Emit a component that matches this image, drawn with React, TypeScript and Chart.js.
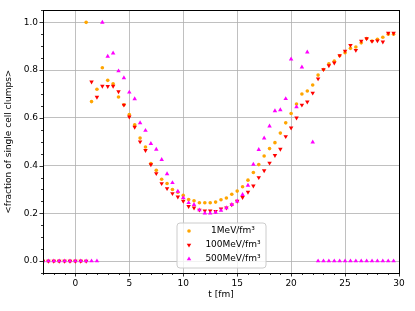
import React, { useEffect, useRef } from 'react';
import { Chart, registerables } from 'chart.js';

Chart.register(...registerables);

// time axis (t in fm)
const times = [
  -3, -2.5, -2, -1.5, -1, -0.5, 0, 0.5, 1, 1.5, 2, 2.5, 3, 3.5, 4, 4.5, 5, 5.5, 6, 6.5,
  7, 7.5, 8, 8.5, 9, 9.5, 10, 10.5, 11, 11.5, 12, 12.5, 13, 13.5, 14, 14.5, 15, 15.5, 16, 16.5,
  17, 17.5, 18, 18.5, 19, 19.5, 20, 20.5, 21, 21.5, 22, 22.5, 23, 23.5, 24, 24.5, 25, 25.5, 26, 26.5,
  27, 27.5, 28, 28.5, 29, 29.5,
];

const oneMeV = [
  0, 0, 0, 0, 0, 0, 0, 0, 1.0, 0.668, 0.72, 0.81, 0.757, 0.743, 0.687, 0.655, 0.614, 0.571, 0.515, 0.478,
  0.408, 0.38, 0.343, 0.325, 0.3, 0.288, 0.275, 0.258, 0.2525, 0.244, 0.244, 0.244, 0.247, 0.257, 0.264, 0.28, 0.293, 0.311, 0.339, 0.371,
  0.404, 0.44, 0.471, 0.496, 0.536, 0.579, 0.618, 0.658, 0.7, 0.7125, 0.7375, 0.779, 0.8025, 0.826, 0.8375, 0.86, 0.873, 0.891, 0.897, 0.914,
  0.932, 0.922, 0.929, 0.9375, 0.95, 0.95,
];

const hundredMeV = [
  0, 0, 0, 0, 0, 0, 0, 0, 0, 0.751, 0.687, 0.733, 0.732, 0.733, 0.71, 0.654, 0.604, 0.561, 0.5, 0.464,
  0.404, 0.367, 0.325, 0.304, 0.283, 0.269, 0.251, 0.229, 0.223, 0.214, 0.211, 0.211, 0.208, 0.219, 0.223, 0.236, 0.251, 0.267, 0.289, 0.315,
  0.35, 0.379, 0.411, 0.443, 0.469, 0.522, 0.558, 0.6, 0.654, 0.667, 0.704, 0.764, 0.8025, 0.819, 0.83, 0.861, 0.88, 0.904, 0.883, 0.922,
  0.932, 0.921, 0.923, 0.918, 0.955, 0.955,
];

const fiveHundredMeV = [
  0, 0, 0, 0, 0, 0, 0, 0, 0, 0, 0, 1.0, 0.857, 0.871, 0.796, 0.767, 0.707, 0.679, 0.579, 0.547,
  0.492, 0.468, 0.425, 0.365, 0.328, 0.292, 0.265, 0.244, 0.236, 0.214, 0.2, 0.2, 0.204, 0.2125, 0.223, 0.236, 0.251, 0.278, 0.317, 0.405,
  0.467, 0.515, 0.565, 0.629, 0.633, 0.68, 0.846, 0.646, 0.8125, 0.875, 0.498, 0, 0, 0, 0, 0, 0, 0, 0, 0,
  0, 0, 0, 0, 0, 0,
];

const seriesLabels = ['1MeV/fm³', '100MeV/fm³', '500MeV/fm³'];
const seriesColors = ['#ffa500', '#ff0000', '#ff00ff'];

const xTicks = [0, 5, 10, 15, 20, 25, 30];
const yTicks = [0, 0.2, 0.4, 0.6, 0.8, 1.0];
const xLabel = 't [fm]';
const yLabel = '<fraction of single cell clumps>';

const FONT = 'DejaVu Sans';
const FS = 9;

function drawMarker(ctx: CanvasRenderingContext2D, kind: number, x: number, y: number, color: string) {
  ctx.fillStyle = color;
  ctx.beginPath();
  if (kind === 0) {
    ctx.arc(x, y, 1.8, 0, Math.PI * 2);
  } else if (kind === 1) {
    const r = 2.6;
    ctx.moveTo(x - r * 0.866, y - r * 0.5);
    ctx.lineTo(x + r * 0.866, y - r * 0.5);
    ctx.lineTo(x, y + r);
  } else {
    const r = 2.6;
    ctx.moveTo(x - r * 0.866, y + r * 0.5);
    ctx.lineTo(x + r * 0.866, y + r * 0.5);
    ctx.lineTo(x, y - r);
  }
  ctx.closePath();
  ctx.fill();
}

const framePlugin = {
  id: 'framePlugin',
  afterDraw(chart: any) {
    const { ctx, chartArea } = chart;
    const { left, right, top, bottom } = chartArea;
    const xs = chart.scales.x;
    const ys = chart.scales.y;
    ctx.save();
    ctx.strokeStyle = '#000';
    ctx.lineWidth = 0.8;
    // x ticks
    for (let v = -3; v <= 30; v += 1) {
      const px = Math.round(xs.getPixelForValue(v)) + 0.5;
      const major = v % 5 === 0;
      ctx.beginPath();
      ctx.moveTo(px, bottom);
      ctx.lineTo(px, bottom + (major ? 3.5 : 2));
      ctx.stroke();
    }
    // y ticks
    for (let i = -1; i <= 21; i++) {
      const v = i * 0.05;
      const py = Math.round(ys.getPixelForValue(v)) + 0.5;
      const major = i % 4 === 0;
      ctx.beginPath();
      ctx.moveTo(left, py);
      ctx.lineTo(left - (major ? 3.5 : 2), py);
      ctx.stroke();
    }
    // frame
    ctx.lineWidth = 1;
    ctx.strokeStyle = '#000';
    ctx.strokeRect(Math.round(left) + 0.5, Math.round(top) + 0.5, Math.round(right - left), Math.round(bottom - top));

    // axis titles
    ctx.fillStyle = '#000';
    ctx.font = `${FS}px "${FONT}"`;
    ctx.textAlign = 'center';
    ctx.textBaseline = 'middle';
    ctx.fillText(xLabel, (left + right) / 2, 295);
    ctx.save();
    ctx.translate(9, (top + bottom) / 2);
    ctx.rotate(-Math.PI / 2);
    ctx.fillText(yLabel, 0, 0);
    ctx.restore();

    // legend
    const bx = 177, by = 223, bw = 89, bh = 45, rr = 3;
    ctx.beginPath();
    ctx.moveTo(bx + rr, by);
    ctx.lineTo(bx + bw - rr, by);
    ctx.quadraticCurveTo(bx + bw, by, bx + bw, by + rr);
    ctx.lineTo(bx + bw, by + bh - rr);
    ctx.quadraticCurveTo(bx + bw, by + bh, bx + bw - rr, by + bh);
    ctx.lineTo(bx + rr, by + bh);
    ctx.quadraticCurveTo(bx, by + bh, bx, by + bh - rr);
    ctx.lineTo(bx, by + rr);
    ctx.quadraticCurveTo(bx, by, bx + rr, by);
    ctx.closePath();
    ctx.fillStyle = 'rgba(255,255,255,0.8)';
    ctx.fill();
    ctx.strokeStyle = '#cccccc';
    ctx.lineWidth = 1;
    ctx.stroke();
    const rowsY = [231, 245, 259];
    for (let i = 0; i < 3; i++) {
      drawMarker(ctx, i, 189, rowsY[i], seriesColors[i]);
      ctx.fillStyle = '#000';
      ctx.textAlign = 'center';
      ctx.textBaseline = 'middle';
      ctx.fillText(seriesLabels[i], 233, rowsY[i]);
    }
    ctx.restore();
  },
};

export default function App() {
  const ref = useRef<HTMLCanvasElement | null>(null);
  useEffect(() => {
    if (!ref.current) return;
    const series = [oneMeV, hundredMeV, fiveHundredMeV];
    const styles = [
      { pointStyle: 'circle', pointRadius: 1.8, rotation: 0 },
      { pointStyle: 'triangle', pointRadius: 2.6, rotation: 180 },
      { pointStyle: 'triangle', pointRadius: 2.6, rotation: 0 },
    ];
    const chart = new Chart(ref.current, {
      type: 'scatter',
      data: {
        datasets: series.map((arr, i) => ({
          label: seriesLabels[i],
          data: times.map((t, j) => ({ x: t, y: arr[j] })),
          showLine: false,
          backgroundColor: seriesColors[i],
          borderColor: seriesColors[i],
          borderWidth: 0,
          pointStyle: styles[i].pointStyle as any,
          pointRadius: styles[i].pointRadius,
          rotation: styles[i].rotation,
          order: 3 - i,
        })),
      },
      options: {
        animation: false,
        responsive: false,
        devicePixelRatio: 1,
        layout: { padding: { top: 9, right: 16, left: 0, bottom: 0 } },
        plugins: { legend: { display: false }, tooltip: { enabled: false } },
        scales: {
          x: {
            type: 'linear',
            min: -3,
            max: 30,
            afterFit: (s: any) => { s.height = 38; },
            afterBuildTicks: (s: any) => { s.ticks = xTicks.map((v) => ({ value: v })); },
            ticks: {
              autoSkip: false,
              maxRotation: 0,
              padding: 5,
              color: '#000',
              font: { family: FONT, size: FS },
              callback: (v: any) => String(v),
            },
            grid: { color: '#b0b0b0', lineWidth: 0.8, drawTicks: false },
            border: { display: false },
          },
          y: {
            type: 'linear',
            min: -0.05,
            max: 1.05,
            afterFit: (s: any) => { s.width = 43; },
            afterBuildTicks: (s: any) => { s.ticks = yTicks.map((v) => ({ value: v })); },
            ticks: {
              autoSkip: false,
              padding: 5,
              color: '#000',
              font: { family: FONT, size: FS },
              callback: (v: any) => Number(v).toFixed(1),
            },
            grid: { color: '#b0b0b0', lineWidth: 0.8, drawTicks: false },
            border: { display: false },
          },
        },
      },
      plugins: [framePlugin],
    });
    return () => chart.destroy();
  }, []);
  return (
    <div style={{ position: 'absolute', left: 0, top: 0, width: 415, height: 311 }}>
      <canvas ref={ref} width={415} height={311} style={{ width: 415, height: 311 }} />
    </div>
  );
}
